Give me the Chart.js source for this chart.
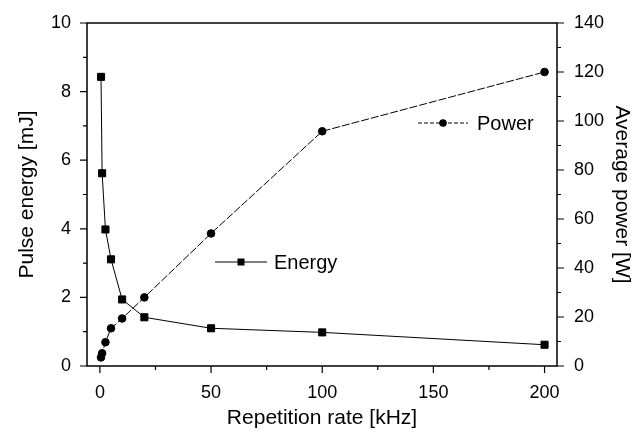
<!DOCTYPE html>
<html>
<head>
<meta charset="utf-8">
<script src="https://cdn.jsdelivr.net/npm/chart.js@4/dist/chart.umd.min.js"></script>
<style>
  body { margin: 0; background: #fff; }
  canvas { display: block; }
</style>
</head>
<body>
<canvas id="myChart" width="639" height="432"></canvas>
<script>
// values
var repRate = [0.5, 1, 2.5, 5, 10, 20, 50, 100, 200];   // kHz
var energy = [8.43, 5.62, 3.98, 3.11, 1.94, 1.42, 1.1, 0.98, 0.62];   // mJ
var power = [3.5, 5.2, 9.7, 15.4, 19.4, 28, 54.1, 95.8, 120];   // W

var xTicks = [0, 25, 50, 75, 100, 125, 150, 175, 200];
var xLabels = [0, 50, 100, 150, 200];
var yLabels = [0, 2, 4, 6, 8, 10];
var y1Labels = [0, 20, 40, 60, 80, 100, 120, 140];

var fontFam = "'Liberation Sans', Arial, sans-serif";

// frame, tick marks and the two inline legends
var framePlugin = {
  id: "frame",
  afterDraw: function (chart) {
    var c = chart.ctx;
    var a = chart.chartArea;
    c.save();
    c.strokeStyle = "#000";
    c.lineWidth = 1.5;
    c.strokeRect(a.left, a.top, a.right - a.left, a.bottom - a.top);

    c.lineWidth = 1.2;
    c.beginPath();
    chart.scales.y.ticks.forEach(function (t) {
      var py = chart.scales.y.getPixelForValue(t.value);
      var len = yLabels.indexOf(t.value) >= 0 ? 7 : 4;
      c.moveTo(a.left - len, py);
      c.lineTo(a.left, py);
    });
    chart.scales.y1.ticks.forEach(function (t) {
      var py = chart.scales.y1.getPixelForValue(t.value);
      var len = y1Labels.indexOf(t.value) >= 0 ? 7 : 4;
      c.moveTo(a.right, py);
      c.lineTo(a.right + len, py);
    });
    chart.scales.x.ticks.forEach(function (t) {
      var px = chart.scales.x.getPixelForValue(t.value);
      var len = xLabels.indexOf(t.value) >= 0 ? 7 : 4;
      c.moveTo(px, a.bottom);
      c.lineTo(px, a.bottom + len);
    });
    c.stroke();

    // legend: Energy
    c.lineWidth = 1;
    c.beginPath();
    c.moveTo(215, 262);
    c.lineTo(267, 262);
    c.stroke();
    c.fillStyle = "#000";
    c.fillRect(241 - 3.5, 262 - 3.5, 7, 7);
    // legend: Power
    c.setLineDash([4, 2]);
    c.beginPath();
    c.moveTo(418, 123);
    c.lineTo(468, 123);
    c.stroke();
    c.setLineDash([]);
    c.beginPath();
    c.arc(443, 123, 3.8, 0, Math.PI * 2);
    c.fill();

    c.font = "20px " + fontFam;
    c.textBaseline = "middle";
    c.textAlign = "left";
    c.fillText("Energy", 274, 263);
    c.fillText("Power", 477, 124);
    c.restore();
  }
};

var ctx = document.getElementById("myChart");

var myChart = new Chart(ctx, {
  type: "line",
  data: {
    datasets: [{
      label: "Energy",
      data: repRate.map(function (x, i) { return { x: x, y: energy[i] }; }),
      yAxisID: "y",
      borderColor: "#000",
      borderWidth: 1,
      pointStyle: "rect",
      pointRadius: 5,
      pointBackgroundColor: "#000",
      pointBorderColor: "#000",
      tension: 0
    }, {
      label: "Power",
      data: repRate.map(function (x, i) { return { x: x, y: power[i] }; }),
      yAxisID: "y1",
      borderColor: "#000",
      borderWidth: 1,
      borderDash: [8, 2],
      pointStyle: "circle",
      pointRadius: 3.8,
      pointBackgroundColor: "#000",
      pointBorderColor: "#000",
      tension: 0
    }]
  },
  options: {
    responsive: false,
    animation: false,
    devicePixelRatio: 1,
    layout: { padding: { top: 23, left: 0, right: 0, bottom: 0 } },
    plugins: {
      legend: { display: false },
      tooltip: { enabled: false }
    },
    scales: {
      x: {
        type: "linear",
        min: -5.8,
        max: 205.6,
        afterBuildTicks: function (s) {
          s.ticks = xTicks.map(function (v) { return { value: v }; });
        },
        afterFit: function (s) { s.height = 66; },
        grid: { display: false },
        border: { display: false },
        ticks: {
          autoSkip: false,
          maxRotation: 0,
          padding: 8,
          color: "#000",
          font: { family: fontFam, size: 18 },
          callback: function (v) { return xLabels.indexOf(v) >= 0 ? String(v) : ""; }
        },
        title: {
          display: true,
          text: "Repetition rate [kHz]",
          color: "#000",
          font: { family: fontFam, size: 21 },
          padding: { top: 0, bottom: 1 }
        }
      },
      y: {
        position: "left",
        min: 0,
        max: 10,
        afterFit: function (s) { s.width = 87; },
        grid: { display: false },
        border: { display: false },
        ticks: {
          stepSize: 1,
          autoSkip: false,
          padding: 8,
          color: "#000",
          font: { family: fontFam, size: 18 },
          callback: function (v) { return yLabels.indexOf(v) >= 0 ? String(v) : ""; }
        },
        title: {
          display: true,
          text: "Pulse energy [mJ]",
          color: "#000",
          font: { family: fontFam, size: 21 },
          padding: { top: 15, bottom: 0 }
        }
      },
      y1: {
        position: "right",
        min: 0,
        max: 140,
        afterFit: function (s) { s.width = 82; },
        grid: { display: false },
        border: { display: false },
        ticks: {
          stepSize: 10,
          autoSkip: false,
          padding: 9,
          color: "#000",
          font: { family: fontFam, size: 18 },
          callback: function (v) { return y1Labels.indexOf(v) >= 0 ? String(v) : ""; }
        },
        title: {
          display: true,
          text: "Average power [W]",
          color: "#000",
          font: { family: fontFam, size: 21 },
          padding: { top: 5, bottom: 0 }
        }
      }
    }
  },
  plugins: [framePlugin]
});
</script>
</body>
</html>
